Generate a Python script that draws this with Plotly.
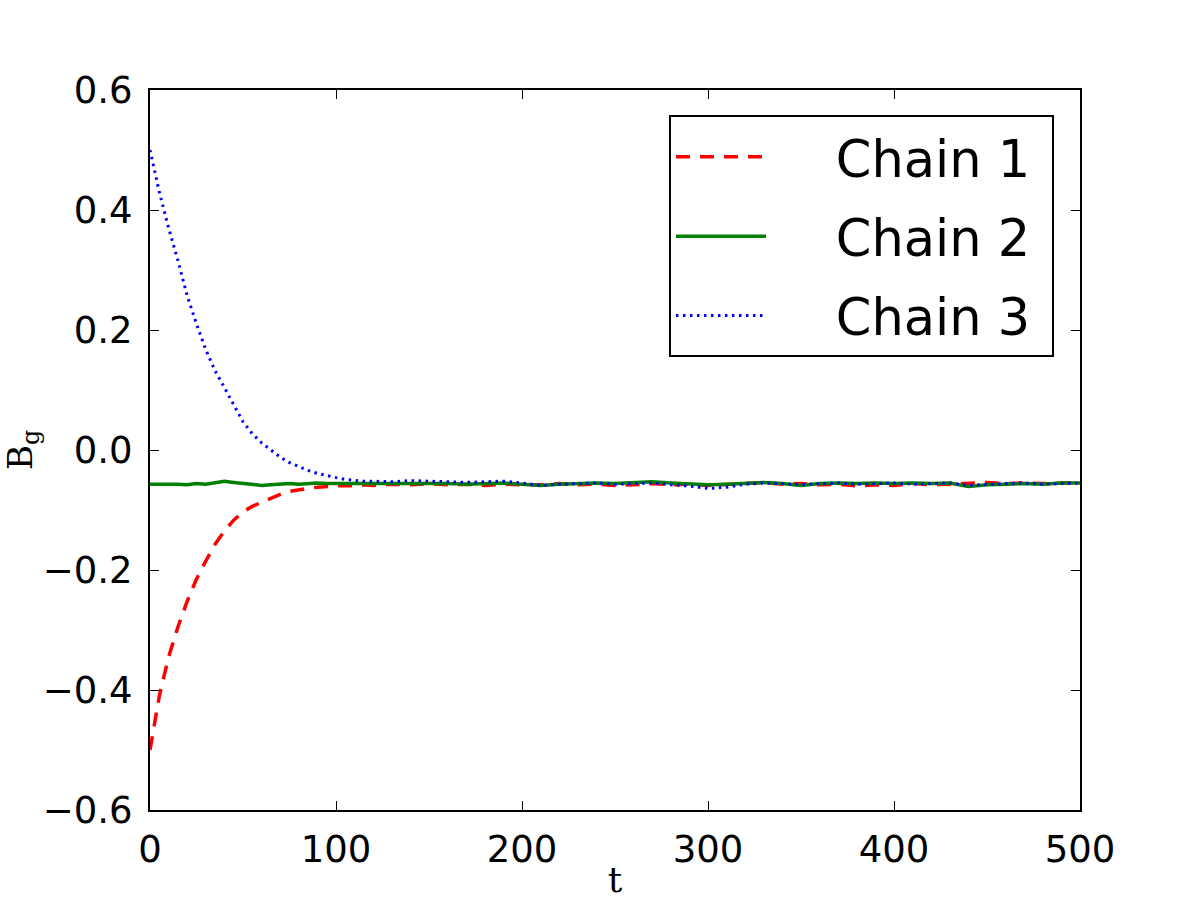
import plotly.graph_objects as go

t = [0, 5, 10, 15, 20, 25, 30, 35, 40, 45, 50, 55, 60, 65, 70, 75, 80, 85, 90, 95,
     100, 105, 110, 115, 120, 130, 140, 150, 160, 170, 180, 190, 200, 210, 220, 230,
     240, 250, 260, 270, 280, 290, 300, 310, 320, 330, 340, 350, 360, 370, 380, 390,
     400, 410, 420, 430, 440, 450, 460, 470, 480, 490, 500]

chain1 = [-0.500, -0.410, -0.345, -0.295, -0.252, -0.215, -0.185, -0.157, -0.135, -0.117,
          -0.103, -0.094, -0.087, -0.080, -0.074, -0.069, -0.066, -0.064, -0.062, -0.061,
          -0.060, -0.059, -0.060, -0.058, -0.059, -0.057, -0.058, -0.056, -0.058, -0.057,
          -0.059, -0.057, -0.058, -0.058, -0.056, -0.058, -0.057, -0.059, -0.058, -0.056,
          -0.058, -0.057, -0.059, -0.058, -0.056, -0.054, -0.057, -0.056, -0.058, -0.057,
          -0.060, -0.058, -0.059, -0.056, -0.058, -0.057, -0.056, -0.054, -0.056, -0.055,
          -0.056, -0.055, -0.054]

chain2 = [-0.057, -0.057, -0.056, -0.057, -0.058, -0.056, -0.057, -0.055, -0.052, -0.054,
          -0.056, -0.058, -0.059, -0.058, -0.057, -0.056, -0.057, -0.056, -0.055, -0.056,
          -0.056, -0.055, -0.056, -0.055, -0.056, -0.055, -0.056, -0.055, -0.056, -0.057,
          -0.056, -0.055, -0.057, -0.059, -0.057, -0.056, -0.055, -0.056, -0.054, -0.053,
          -0.055, -0.056, -0.058, -0.057, -0.055, -0.054, -0.056, -0.059, -0.056, -0.055,
          -0.056, -0.055, -0.056, -0.055, -0.056, -0.055, -0.061, -0.058, -0.057, -0.056,
          -0.057, -0.055, -0.055]

chain3 = [0.500, 0.430, 0.370, 0.316, 0.257, 0.210, 0.167, 0.132, 0.104, 0.075,
          0.047, 0.027, 0.012, 0.000, -0.012, -0.021, -0.028, -0.034, -0.039, -0.043,
          -0.046, -0.049, -0.051, -0.052, -0.052, -0.053, -0.051, -0.052, -0.053, -0.054,
          -0.053, -0.052, -0.055, -0.059, -0.057, -0.056, -0.055, -0.057, -0.056, -0.055,
          -0.058, -0.060, -0.064, -0.062, -0.057, -0.055, -0.056, -0.058, -0.056, -0.055,
          -0.057, -0.056, -0.055, -0.057, -0.056, -0.055, -0.059, -0.057, -0.056, -0.055,
          -0.057, -0.056, -0.055]

x_ticks = [0, 100, 200, 300, 400, 500]
y_ticks = [-0.6, -0.4, -0.2, 0.0, 0.2, 0.4, 0.6]
names = ["Chain 1", "Chain 2", "Chain 3"]

lead = "\u00a0\u00a0\u00a0\u00a0"
trail = "\u00a0"

fig = go.Figure()
fig.add_trace(go.Scatter(x=t, y=chain1, mode="lines", name=lead + names[0] + trail, legendgroup="a",
                         line=dict(color="#ff0000", width=3.5, dash="14px,10px")))
fig.add_trace(go.Scatter(x=t, y=chain2, mode="lines", name=lead + names[1] + trail, legendgroup="b",
                         line=dict(color="#008000", width=3.5)))
fig.add_trace(go.Scatter(x=t, y=chain3, mode="lines", name=lead + names[2] + trail, legendgroup="c",
                         line=dict(color="#0000ff", width=3, dash="2.5px,4.5px")))

axis_common = dict(
    showline=True, linecolor="black", linewidth=2, mirror="ticks",
    ticks="inside", ticklen=9, tickwidth=1.2, tickcolor="black",
    showgrid=False, zeroline=False, automargin=False,
    tickfont=dict(family="DejaVu Sans", size=37, color="black"),
)

fig.update_layout(
    width=1200, height=900,
    margin=dict(l=150, r=120, t=90, b=90),
    paper_bgcolor="white", plot_bgcolor="white",
    xaxis=dict(range=[0, 500], tickvals=x_ticks, ticktext=[str(v) for v in x_ticks],
               title=dict(text="t", font=dict(family="DejaVu Serif", size=36, color="black"),
                          standoff=5),
               ticklabelstandoff=6,
               **axis_common),
    yaxis=dict(range=[-0.6, 0.6], tickvals=y_ticks, tickformat=".1f",
               title=dict(text="B<sub>g</sub>", font=dict(family="DejaVu Serif", size=34, color="black"),
                          standoff=8),
               ticklabelstandoff=8,
               **axis_common),
    legend=dict(x=0.972, y=0.965, xanchor="right", yanchor="top",
                bordercolor="black", borderwidth=2, bgcolor="white",
                font=dict(family="DejaVu Sans", size=51, color="black"),
                itemwidth=90, tracegroupgap=10),
    showlegend=True,
)

fig.write_html("out.html")
